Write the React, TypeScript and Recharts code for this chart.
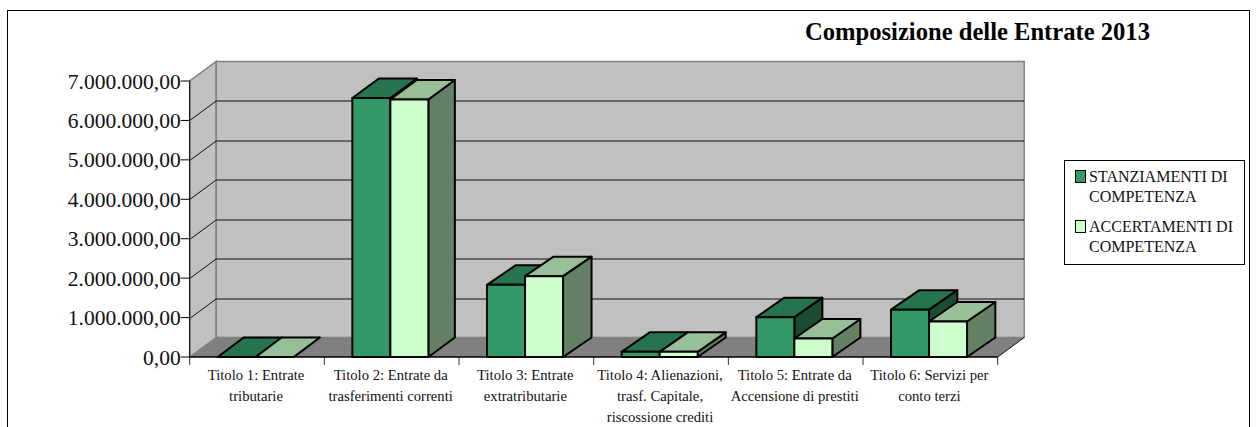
import React from "react";
import { BarChart, Bar, XAxis, YAxis, Legend, ReferenceArea } from "recharts";

const categories = [
  ["Titolo 1: Entrate", "tributarie"],
  ["Titolo 2: Entrate da", "trasferimenti correnti"],
  ["Titolo 3: Entrate", "extratributarie"],
  ["Titolo 4: Alienazioni,", "trasf. Capitale,", "riscossione crediti"],
  ["Titolo 5: Entrate da", "Accensione di prestiti"],
  ["Titolo 6: Servizi per", "conto terzi"],
];
const stanziamenti = [0, 6570000, 1830000, 130000, 1010000, 1200000];
const accertamenti = [0, 6530000, 2050000, 130000, 470000, 900000];
const yTicks = [0, 1000000, 2000000, 3000000, 4000000, 5000000, 6000000, 7000000];

const SERIF = "'Liberation Serif', 'Times New Roman', serif";
const DEPTH_X = 26.5;
const DEPTH_Y = 19.5;
const BOX_DEPTH_X = [26, 26.5, 28.5, 28, 28, 28.3];
const BAR_SHIFT = -1;
const TICK_LENGTH = 8;

const rows = categories.map((lines, i) => ({
  key: lines.join(" "),
  lines,
  stanziamenti: stanziamenti[i],
  accertamenti: accertamenti[i],
}));

const formatEuro = (v: number) =>
  v.toLocaleString("it-IT", { minimumFractionDigits: 2, maximumFractionDigits: 2, useGrouping: "always" } as any);

// Back wall, side wall, floor, the gridlines across them and the category separators.
function Walls({ x, y, width, height }: any) {
  const max = yTicks[yTicks.length - 1];
  const bottom = y + height;
  const inner = yTicks.slice(1, -1).map((v) => Math.round(bottom - (v / max) * height) + 0.5);
  const step = width / categories.length;
  return (
    <g>
      <polygon
        points={`${x},${bottom} ${x + DEPTH_X},${bottom - DEPTH_Y} ${x + DEPTH_X},${y - DEPTH_Y} ${x},${y}`}
        fill="#c0c0c0"
        stroke="#808080"
        strokeWidth={1.5}
      />
      <rect x={x + DEPTH_X} y={y - DEPTH_Y} width={width} height={height} fill="#c0c0c0" stroke="#808080" strokeWidth={1.5} />
      {inner.map((gy) => (
        <g key={gy} stroke="#111" strokeWidth={1}>
          <line x1={x} y1={gy} x2={x + DEPTH_X} y2={gy - DEPTH_Y} />
          <line x1={x + DEPTH_X} y1={gy - DEPTH_Y} x2={x + DEPTH_X + width} y2={gy - DEPTH_Y} />
        </g>
      ))}
      <polygon
        points={`${x},${bottom} ${x + width},${bottom} ${x + width + DEPTH_X},${bottom - DEPTH_Y} ${x + DEPTH_X},${bottom - DEPTH_Y}`}
        fill="#808080"
      />
      <line x1={x + width} y1={bottom} x2={x + width + DEPTH_X} y2={bottom - DEPTH_Y} stroke="#111" strokeWidth={1} />
      {[...categories, null].map((_, i) => (
        <line
          key={i}
          x1={x + i * step}
          y1={bottom}
          x2={x + i * step}
          y2={bottom + TICK_LENGTH}
          stroke="#333"
          strokeWidth={1}
        />
      ))}
    </g>
  );
}

// A bar as a box: front face, lid and right-hand face, all in shades of the series colour.
const boxShape = (front: string, lid: string, side: string) => (props: any) => {
  const { x: rawX, y, width: w, height: h, index } = props;
  const x = rawX + BAR_SHIFT;
  const dx = BOX_DEPTH_X[index];
  const stroke = { stroke: "#000", strokeWidth: 2, strokeLinejoin: "round" as const };
  return (
    <g>
      <polygon
        points={`${x + w},${y} ${x + w + dx},${y - DEPTH_Y} ${x + w + dx},${y + h - DEPTH_Y} ${x + w},${y + h}`}
        fill={side}
        {...stroke}
      />
      <polygon
        points={`${x},${y} ${x + dx},${y - DEPTH_Y} ${x + w + dx},${y - DEPTH_Y} ${x + w},${y}`}
        fill={lid}
        {...stroke}
      />
      <rect x={x} y={y} width={w} height={h} fill={front} {...stroke} />
    </g>
  );
};

function CategoryTick({ x, y, index }: any) {
  return (
    <text x={x - 1} y={y + 13} textAnchor="middle" fontFamily={SERIF} fontSize={14.7} fill="#111">
      {categories[index].map((line, i) => (
        <tspan key={line} x={x - 1} dy={i === 0 ? 0 : 21}>
          {line}
        </tspan>
      ))}
    </text>
  );
}

function LegendBox({ payload }: any) {
  return (
    <div
      style={{
        boxSizing: "border-box",
        width: 181,
        height: 105,
        border: "1px solid #000",
        background: "#fff",
        padding: "6px 4px 0 10px",
        fontFamily: SERIF,
        fontSize: 16,
        lineHeight: "19.5px",
        color: "#111",
      }}
    >
      {(payload || []).map((entry: any) => (
        <div key={entry.value} style={{ display: "flex", marginBottom: 11 }}>
          <span
            style={{
              boxSizing: "border-box",
              flex: "none",
              width: 11,
              height: 13,
              marginTop: 3,
              marginRight: 3,
              background: entry.color,
              border: "1.5px solid #000",
            }}
          />
          <span>{entry.value}</span>
        </div>
      ))}
    </div>
  );
}

export default function App() {
  return (
    <div style={{ position: "absolute", left: 0, top: 0, width: 1257, height: 427, overflow: "hidden", background: "#fff" }}>
      <div
        style={{
          position: "absolute",
          left: 7,
          top: 10,
          width: 1241,
          height: 440,
          border: "1px solid #000",
        }}
      />
      <div style={{ position: "absolute", left: 0, top: 0 }}>
        <BarChart
          width={1257}
          height={427}
          data={rows}
          margin={{ top: 81, right: 259.3, bottom: 0, left: 0 }}
          barSize={38}
          barGap={0}
        >
          <ReferenceArea y1={0} y2={yTicks[yTicks.length - 1]} shape={<Walls />} ifOverflow="visible" />
          <XAxis
            dataKey="key"
            height={70}
            interval={0}
            stroke="#000"
            strokeWidth={1.6}
            tickLine={false}
            tickSize={8}
            tick={<CategoryTick />}
          />
          <YAxis
            width={189.7}
            domain={[0, yTicks[yTicks.length - 1]]}
            ticks={yTicks}
            tickFormatter={formatEuro}
            stroke="#000"
            tickSize={9}
            tickMargin={0}
            tick={{ fontFamily: SERIF, fontSize: 21.5, fill: "#111" }}
          />
          <Legend
            layout="vertical"
            align="center"
            verticalAlign="middle"
            itemSorter={null}
            content={<LegendBox />}
            wrapperStyle={{ position: "absolute", left: 1064, top: 160, width: 181, height: 105 }}
          />
          <Bar
            dataKey="stanziamenti"
            name="STANZIAMENTI DI COMPETENZA"
            fill="#339966"
            isAnimationActive={false}
            shape={boxShape("#339966", "#267350", "#1c4d33")}
          />
          <Bar
            dataKey="accertamenti"
            name="ACCERTAMENTI DI COMPETENZA"
            fill="#ccffcc"
            isAnimationActive={false}
            shape={boxShape("#ccffcc", "#99bf99", "#668066")}
          />
          <text x={805} y={40} fontFamily={SERIF} fontSize={24.6} fontWeight={700} fill="#000">
            Composizione delle Entrate 2013
          </text>
        </BarChart>
      </div>
    </div>
  );
}
